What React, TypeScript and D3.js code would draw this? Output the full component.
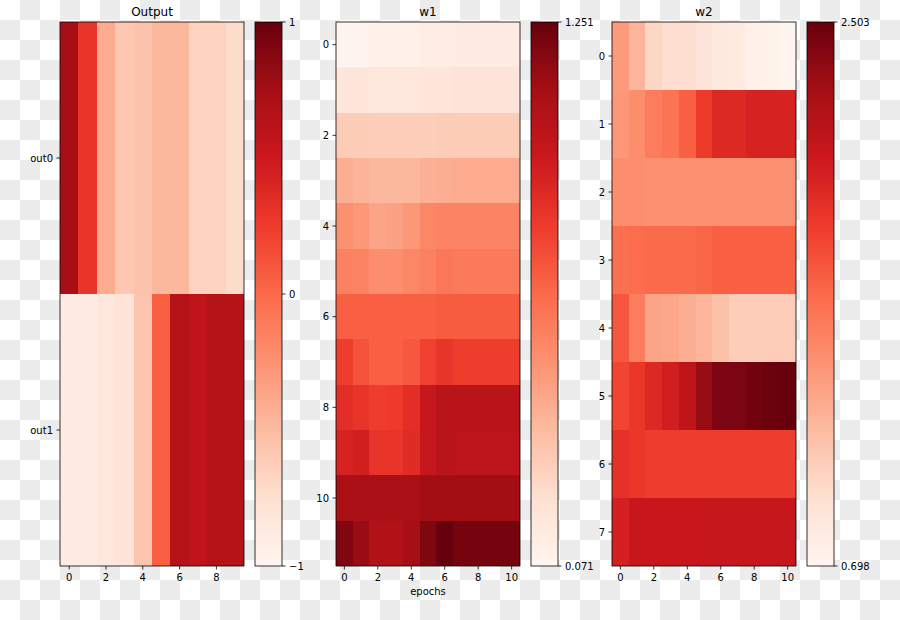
import React from "react";
import * as d3 from "d3";

// ---------- data ----------
const outputRows = ["out0", "out1"];
const outputValues: number[][] = [
  [0.74, 0.3, -0.4, -0.58, -0.55, -0.48, -0.48, -0.66, -0.66, -0.72],
  [-0.88, -0.88, -0.84, -0.8, -0.56, 0.06, 0.64, 0.58, 0.64, 0.64],
];
const outputRange = [-1, 1];
const outputBarTicks = [1, 0, -1];
const outputBarLabels = ["1", "0", "\u22121"];

const w1Values: number[][] = [
  [0.071, 0.078, 0.095, 0.095, 0.106, 0.13, 0.13, 0.142, 0.142, 0.142, 0.142],
  [0.177, 0.177, 0.165, 0.165, 0.165, 0.177, 0.177, 0.189, 0.189, 0.189, 0.189],
  [0.3, 0.3, 0.29, 0.29, 0.29, 0.29, 0.3, 0.3, 0.3, 0.3, 0.3],
  [0.413, 0.39, 0.378, 0.378, 0.378, 0.401, 0.413, 0.425, 0.425, 0.425, 0.425],
  [0.519, 0.496, 0.449, 0.46, 0.496, 0.555, 0.567, 0.567, 0.567, 0.567, 0.567],
  [0.578, 0.567, 0.531, 0.531, 0.555, 0.578, 0.614, 0.602, 0.602, 0.602, 0.602],
  [0.696, 0.696, 0.696, 0.696, 0.696, 0.696, 0.708, 0.708, 0.708, 0.708, 0.708],
  [0.803, 0.732, 0.696, 0.696, 0.72, 0.791, 0.838, 0.803, 0.803, 0.803, 0.803],
  [0.862, 0.838, 0.803, 0.814, 0.862, 0.98, 1.027, 1.027, 1.027, 1.027, 1.027],
  [0.909, 0.932, 0.838, 0.838, 0.873, 0.98, 1.027, 1.015, 1.015, 1.015, 1.015],
  [1.086, 1.086, 1.086, 1.086, 1.086, 1.109, 1.109, 1.109, 1.109, 1.109, 1.109],
  [1.192, 1.133, 1.062, 1.062, 1.098, 1.192, 1.251, 1.216, 1.216, 1.216, 1.216],
];
const w1Range = [0.071, 1.251];
const w1BarLabels = ["1.251", "0.071"];

const w2Values: number[][] = [
  [1.33, 1.185, 0.987, 0.933, 0.933, 0.879, 0.824, 0.806, 0.752, 0.734, 0.698],
  [1.348, 1.402, 1.492, 1.546, 1.655, 1.835, 1.943, 1.943, 1.98, 1.98, 1.98],
  [1.402, 1.402, 1.384, 1.384, 1.384, 1.384, 1.384, 1.384, 1.384, 1.384, 1.384],
  [1.564, 1.582, 1.6, 1.6, 1.6, 1.619, 1.655, 1.655, 1.655, 1.655, 1.655],
  [1.691, 1.492, 1.276, 1.258, 1.221, 1.185, 1.113, 1.041, 1.041, 1.041, 1.041],
  [1.781, 1.853, 1.943, 2.016, 2.124, 2.323, 2.431, 2.431, 2.467, 2.485, 2.503],
  [1.889, 1.853, 1.817, 1.817, 1.817, 1.817, 1.817, 1.817, 1.817, 1.817, 1.817],
  [1.998, 2.07, 2.07, 2.07, 2.07, 2.07, 2.088, 2.088, 2.088, 2.088, 2.088],
];
const w2Range = [0.698, 2.503];
const w2BarLabels = ["2.503", "0.698"];

const titles = ["Output", "w1", "w2"];
const xAxisLabel = "epochs";

// matplotlib "Reds" (linear segments through ColorBrewer stops)
const REDS = ["#fff5f0", "#fee0d2", "#fcbba1", "#fc9272", "#fb6a4a", "#ef3b2c", "#cb181d", "#a50f15", "#67000d"];
const reds = d3
  .scaleLinear<string>()
  .domain(d3.range(9).map((i) => i / 8))
  .range(REDS)
  .interpolate(d3.interpolateRgb)
  .clamp(true);

// ---------- layout ----------
const W = 900;
const H = 620;
const TOP = 22;
const BOTTOM = 566;
const HM_W = 184;
const CB_OFF = 195;
const CB_W = 27;
const LEFTS = [60, 336, 612];
const FONT = "DejaVu Sans, sans-serif";

type Panel = {
  title: string;
  values: number[][];
  range: number[];
  yTicks: number[];
  yLabels: string[];
  xTicks: number[];
  barTicks: number[];
  barLabels: string[];
  xlabel?: string;
};

const panels: Panel[] = [
  {
    title: titles[0],
    values: outputValues,
    range: outputRange,
    yTicks: outputRows.map((_, i) => i),
    yLabels: outputRows,
    xTicks: d3.range(0, outputValues[0].length, 2),
    barTicks: outputBarTicks,
    barLabels: outputBarLabels,
  },
  {
    title: titles[1],
    values: w1Values,
    range: w1Range,
    yTicks: d3.range(0, w1Values.length, 2),
    yLabels: d3.range(0, w1Values.length, 2).map(String),
    xTicks: d3.range(0, w1Values[0].length, 2),
    barTicks: [w1Range[1], w1Range[0]],
    barLabels: w1BarLabels,
    xlabel: xAxisLabel,
  },
  {
    title: titles[2],
    values: w2Values,
    range: w2Range,
    yTicks: d3.range(0, w2Values.length),
    yLabels: d3.range(0, w2Values.length).map(String),
    xTicks: d3.range(0, w2Values[0].length, 2),
    barTicks: [w2Range[1], w2Range[0]],
    barLabels: w2BarLabels,
  },
];

function PanelView({ p, left, idx }: { p: Panel; left: number; idx: number }) {
  const nr = p.values.length;
  const nc = p.values[0].length;
  const x = d3.scaleLinear().domain([-0.5, nc - 0.5]).range([left, left + HM_W]);
  const y = d3.scaleLinear().domain([-0.5, nr - 0.5]).range([TOP, BOTTOM]);
  const norm = d3.scaleLinear().domain(p.range).range([0, 1]);
  const cbLeft = left + CB_OFF;
  const cbY = d3.scaleLinear().domain(p.range).range([BOTTOM, TOP]);
  const gradId = `grad${idx}`;
  const clipId = `clip${idx}`;
  const stops = d3.range(0, 1.0001, 0.02);
  return (
    <g>
      <defs>
        <linearGradient id={gradId} x1="0" y1="1" x2="0" y2="0">
          {stops.map((s) => (
            <stop key={s} offset={s} stopColor={reds(s)} />
          ))}
        </linearGradient>
        <clipPath id={clipId}>
          <rect x={left} y={TOP} width={HM_W} height={BOTTOM - TOP} />
        </clipPath>
      </defs>
      <g shapeRendering="crispEdges" clipPath={`url(#${clipId})`}>
        {p.values.map((row, r) =>
          row.map((v, c) => (
            <rect
              key={`${r}-${c}`}
              x={x(c - 0.5)}
              y={y(r - 0.5)}
              width={x(c + 0.5) - x(c - 0.5) + 1}
              height={y(r + 0.5) - y(r - 0.5) + 1}
              fill={reds(norm(v))}
            />
          ))
        )}
      </g>
      <rect x={left} y={TOP} width={HM_W} height={BOTTOM - TOP} fill="none" stroke="#000" strokeWidth={0.8} />
      {/* x ticks */}
      {p.xTicks.map((t) => (
        <g key={`xt${t}`}>
          <line x1={x(t)} x2={x(t)} y1={BOTTOM} y2={BOTTOM + 3.5} stroke="#000" strokeWidth={0.8} />
          <text x={x(t)} y={BOTTOM + 7} dy="0.76em" textAnchor="middle" fontSize={10} fontFamily={FONT}>
            {t}
          </text>
        </g>
      ))}
      {/* y ticks */}
      {p.yTicks.map((t, i) => (
        <g key={`yt${t}`}>
          <line x1={left - 3.5} x2={left} y1={y(t)} y2={y(t)} stroke="#000" strokeWidth={0.8} />
          <text x={left - 7} y={y(t)} dy="0.35em" textAnchor="end" fontSize={10} fontFamily={FONT}>
            {p.yLabels[i]}
          </text>
        </g>
      ))}
      <text x={left + HM_W / 2} y={TOP - 6} textAnchor="middle" fontSize={12} fontFamily={FONT}>
        {p.title}
      </text>
      {p.xlabel && (
        <text x={left + HM_W / 2} y={BOTTOM + 21} dy="0.76em" textAnchor="middle" fontSize={10} fontFamily={FONT}>
          {p.xlabel}
        </text>
      )}
      {/* colorbar */}
      <rect x={cbLeft} y={TOP} width={CB_W} height={BOTTOM - TOP} fill={`url(#${gradId})`} stroke="#000" strokeWidth={0.8} />
      {p.barTicks.map((t, i) => (
        <g key={`cb${i}`}>
          <line x1={cbLeft + CB_W} x2={cbLeft + CB_W + 3.5} y1={cbY(t)} y2={cbY(t)} stroke="#000" strokeWidth={0.8} />
          <text x={cbLeft + CB_W + 7} y={cbY(t)} dy="0.35em" fontSize={10} fontFamily={FONT}>
            {p.barLabels[i]}
          </text>
        </g>
      ))}
    </g>
  );
}

export default function App() {
  return (
    <svg width={W} height={H} style={{ position: "absolute", left: 0, top: 0, display: "block" }}>
      <defs>
        <pattern id="checker" width={40} height={40} patternUnits="userSpaceOnUse">
          <rect width={40} height={40} fill="#ffffff" />
          <rect x={20} y={0} width={20} height={20} fill="#ececec" />
          <rect x={0} y={20} width={20} height={20} fill="#ececec" />
        </pattern>
      </defs>
      <rect width={W} height={H} fill="url(#checker)" />
      {panels.map((p, i) => (
        <PanelView key={p.title} p={p} left={LEFTS[i]} idx={i} />
      ))}
    </svg>
  );
}
